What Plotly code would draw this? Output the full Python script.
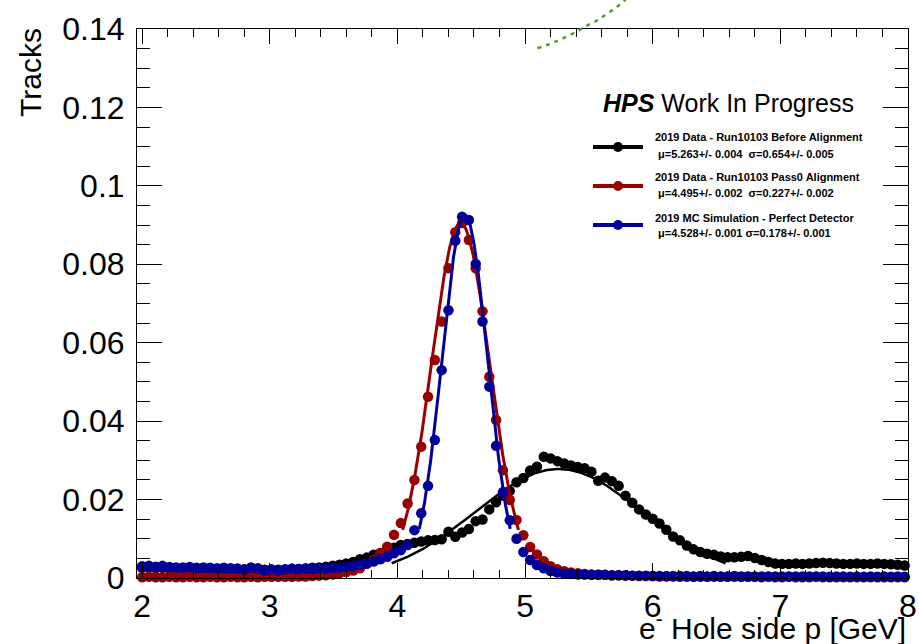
import numpy as np
import plotly.graph_objects as go

# ---------------- data ----------------
# histogram binning: 150 bins over [0, 8] GeV, bins 37..149 visible
n_bins_total = 150
hist_max = 8.0
first_visible_bin = 37
bin_width = hist_max / n_bins_total
bin_centers = [round((k + 0.5) * bin_width, 4) for k in range(first_visible_bin, n_bins_total)]

before_alignment = [
    0.0026, 0.0027, 0.0025, 0.0026, 0.0024, 0.0025, 0.0024, 0.0025, 0.0024, 0.0023,
    0.0024, 0.0023, 0.0024, 0.0022, 0.0023, 0.0022, 0.0021, 0.0022, 0.0021, 0.0020,
    0.0021, 0.0021, 0.0022, 0.0023, 0.0024, 0.0026, 0.0027, 0.0029, 0.0031, 0.0034,
    0.0037, 0.0041, 0.0048, 0.0052, 0.0059, 0.0064, 0.0070, 0.0077, 0.0084, 0.0087,
    0.0090, 0.0093, 0.0096, 0.0097, 0.0099, 0.0118, 0.0105, 0.0116, 0.0125, 0.0145,
    0.0149, 0.0175, 0.0193, 0.0210, 0.0222, 0.0244, 0.0255, 0.0274, 0.0284, 0.0309,
    0.0305, 0.0298, 0.0292, 0.0287, 0.0283, 0.0280, 0.0271, 0.0248, 0.0256, 0.0247,
    0.0235, 0.0210, 0.0192, 0.0175, 0.0162, 0.0151, 0.0139, 0.0123, 0.0106, 0.0096,
    0.0083, 0.0073, 0.0066, 0.0062, 0.0059, 0.0055, 0.0053, 0.0053, 0.0054, 0.0056,
    0.0051, 0.0046, 0.0041, 0.0037, 0.0036, 0.0036, 0.0037, 0.0036, 0.0037, 0.0038,
    0.0039, 0.0038, 0.0037, 0.0036, 0.0036, 0.0037, 0.0036, 0.0036, 0.0037, 0.0036,
    0.0035, 0.0034, 0.0032,
]

pass0_alignment = [
    0.0002, 0.0003, 0.0002, 0.0002, 0.0003, 0.0002, 0.0002, 0.0003, 0.0002, 0.0002,
    0.0003, 0.0002, 0.0002, 0.0003, 0.0002, 0.0002, 0.0003, 0.0002, 0.0003, 0.0003,
    0.0003, 0.0003, 0.0003, 0.0004, 0.0004, 0.0005, 0.0006, 0.0007, 0.0009, 0.0012,
    0.0015, 0.0019, 0.0025, 0.0036, 0.0046, 0.0063, 0.0080, 0.0110, 0.0140, 0.0190,
    0.0250, 0.0335, 0.0462, 0.0556, 0.0654, 0.0790, 0.0882, 0.0905, 0.0862, 0.0790,
    0.0680, 0.0513, 0.0403, 0.0275, 0.0199, 0.0148, 0.0109, 0.0079, 0.0060, 0.0043,
    0.0030, 0.0022, 0.0017, 0.0014, 0.0012, 0.0010, 0.0009, 0.0008, 0.0008, 0.0007,
    0.0007, 0.0006, 0.0006, 0.0005, 0.0005, 0.0005, 0.0004, 0.0004, 0.0004, 0.0003,
    0.0003, 0.0003, 0.0003, 0.0003, 0.0003, 0.0003, 0.0003, 0.0003, 0.0003, 0.0003,
    0.0003, 0.0002, 0.0003, 0.0002, 0.0002, 0.0003, 0.0002, 0.0002, 0.0002, 0.0003,
    0.0002, 0.0002, 0.0002, 0.0002, 0.0002, 0.0002, 0.0002, 0.0002, 0.0002, 0.0002,
    0.0002, 0.0002, 0.0002,
]

mc_perfect = [
    0.0030, 0.0031, 0.0029, 0.0031, 0.0028, 0.0027, 0.0027, 0.0028, 0.0026, 0.0027,
    0.0026, 0.0025, 0.0026, 0.0025, 0.0024, 0.0021, 0.0027, 0.0025, 0.0019, 0.0022,
    0.0019, 0.0022, 0.0024, 0.0023, 0.0024, 0.0023, 0.0025, 0.0024, 0.0026, 0.0026,
    0.0029, 0.0031, 0.0033, 0.0037, 0.0042, 0.0048, 0.0054, 0.0063, 0.0071, 0.0084,
    0.0122, 0.0165, 0.0235, 0.0352, 0.0530, 0.0683, 0.0860, 0.0921, 0.0913, 0.0801,
    0.0654, 0.0488, 0.0337, 0.0219, 0.0147, 0.0100, 0.0066, 0.0046, 0.0033, 0.0025,
    0.0018, 0.0014, 0.0011, 0.0010, 0.0009, 0.0009, 0.0008, 0.0008, 0.0008, 0.0007,
    0.0007, 0.0007, 0.0006, 0.0006, 0.0006, 0.0005, 0.0005, 0.0005, 0.0005, 0.0005,
    0.0005, 0.0004, 0.0005, 0.0004, 0.0005, 0.0004, 0.0004, 0.0005, 0.0004, 0.0004,
    0.0004, 0.0004, 0.0004, 0.0004, 0.0004, 0.0004, 0.0004, 0.0004, 0.0004, 0.0004,
    0.0004, 0.0003, 0.0004, 0.0004, 0.0003, 0.0004, 0.0003, 0.0004, 0.0003, 0.0004,
    0.0003, 0.0004, 0.0003,
]

# Gaussian fit parameters (amplitude, mean, sigma), fit range mean +/- 2 sigma
fit_amplitude = [0.0278, 0.0905, 0.0925]
fit_mean = [5.263, 4.495, 4.528]
fit_sigma = [0.654, 0.227, 0.178]

# extra dashed fit curve visible at the top
green_x = [5.096, 5.190, 5.268, 5.347, 5.420, 5.491, 5.566, 5.634, 5.705, 5.770, 5.830]
green_y = [0.1351, 0.1361, 0.1372, 0.1384, 0.1396, 0.1410, 0.1422, 0.1437, 0.1453, 0.1470, 0.1490]

x_ticks = [2, 3, 4, 5, 6, 7, 8]

series_names = [
    "2019 Data - Run10103 Before Alignment",
    "2019 Data - Run10103 Pass0 Alignment",
    "2019 MC Simulation - Perfect Detector",
]
fit_labels = [
    "\u03bc=5.263+/- 0.004  \u03c3=0.654+/- 0.005",
    "\u03bc=4.495+/- 0.002  \u03c3=0.227+/- 0.002",
    "\u03bc=4.528+/- 0.001 \u03c3=0.178+/- 0.001",
]
colors = ["#000000", "#990000", "#000099"]
fit_widths = [2.5, 3, 3]

# ---------------- figure ----------------
W, H = 919, 644
L, R, B = 137, 908, 578   # plot frame pixel edges
T = 29

def px(xp):
    return (xp - L) / (R - L)

def py(yp):
    return (B - yp) / B

fig = go.Figure()
series = [before_alignment, pass0_alignment, mc_perfect]
for i in range(3):
    fig.add_trace(go.Scatter(
        x=bin_centers, y=series[i], mode="markers",
        marker=dict(color=colors[i], size=10.5, line=dict(width=0)),
        cliponaxis=False, name=series_names[i], xaxis="x", yaxis="y"))
    xf = np.linspace(fit_mean[i] - 2 * fit_sigma[i], fit_mean[i] + 2 * fit_sigma[i], 300)
    yf = fit_amplitude[i] * np.exp(-0.5 * ((xf - fit_mean[i]) / fit_sigma[i]) ** 2)
    fig.add_trace(go.Scatter(
        x=xf, y=yf, mode="lines", line=dict(color=colors[i], width=fit_widths[i]),
        xaxis="x", yaxis="y", hoverinfo="skip"))

fig.add_trace(go.Scatter(
    x=green_x, y=green_y, mode="lines",
    line=dict(color="#5a9e2a", width=2.5, dash="4px,5px", shape="spline"),
    xaxis="x2", yaxis="y2"))

axis_common = dict(
    showline=True, linecolor="black", linewidth=1, mirror="allticks",
    ticks="inside", tickcolor="black", tickwidth=1,
    showgrid=False, zeroline=False, automargin=False,
    tickfont=dict(size=32, family="Liberation Sans, Arial, sans-serif", color="black"),
)

fig.update_layout(
    width=W, height=H,
    margin=dict(l=L, r=W - R, t=0, b=H - B, pad=0, autoexpand=False),
    paper_bgcolor="white", plot_bgcolor="rgba(0,0,0,0)",
    showlegend=False,
    font=dict(family="Liberation Sans, Arial, sans-serif", color="black"),
    xaxis=dict(range=[1.96, 8.0], domain=[0, 1], anchor="y",
               tickmode="array", tickvals=x_ticks, ticklen=15,
               ticklabelstandoff=0,
               minor=dict(ticks="inside", ticklen=8, dtick=0.2, tick0=2,
                          tickcolor="black", tickwidth=1, showgrid=False),
               **axis_common),
    yaxis=dict(range=[0, 0.14], domain=[0, (B - T) / B], anchor="x",
               tickmode="linear", tick0=0, dtick=0.02, ticklen=25,
               ticklabelstandoff=5,
               minor=dict(ticks="inside", ticklen=13, dtick=0.005, tick0=0,
                          tickcolor="black", tickwidth=1, showgrid=False),
               **axis_common),
    xaxis2=dict(range=[1.96, 8.0], domain=[0, 1], anchor="y2", visible=False),
    yaxis2=dict(range=[0, B / ((B - T) / 0.14)], domain=[0, 1], anchor="x2", visible=False),
)

annotations = []
shapes = []
# axis titles
annotations.append(dict(text="Tracks", x=px(30), y=py(73), xref="paper", yref="paper",
                        textangle=-90, xanchor="center", yanchor="middle", showarrow=False,
                        font=dict(size=30)))
annotations.append(dict(text="e<sup>-</sup> Hole side p [GeV]", x=px(908), y=py(626),
                        xref="paper", yref="paper", xanchor="right", yanchor="middle",
                        showarrow=False, font=dict(size=30)))
# header
annotations.append(dict(text="<b><i>HPS</i></b> Work In Progress", x=px(728), y=py(103),
                        xref="paper", yref="paper", xanchor="center", yanchor="middle",
                        showarrow=False, font=dict(size=25)))
legend_y = [147, 186, 225]
line1_y = [137, 177, 218]
line2_y = [154, 193, 233]
for i in range(3):
    shapes.append(dict(type="line", xref="paper", yref="paper",
                       x0=px(593), x1=px(643), y0=py(legend_y[i]), y1=py(legend_y[i]),
                       line=dict(color=colors[i], width=4)))
    shapes.append(dict(type="circle", xref="paper", yref="paper",
                       x0=px(613), x1=px(623), y0=py(legend_y[i] - 5), y1=py(legend_y[i] + 5),
                       fillcolor=colors[i], line=dict(width=0)))
    annotations.append(dict(text="<b>" + series_names[i] + "</b>", x=px(653), y=py(line1_y[i]),
                            xref="paper", yref="paper", xanchor="left", yanchor="middle",
                            showarrow=False, font=dict(size=11)))
    annotations.append(dict(text="<b>" + fit_labels[i] + "</b>", x=px(656), y=py(line2_y[i]),
                            xref="paper", yref="paper", xanchor="left", yanchor="middle",
                            showarrow=False, font=dict(size=11)))

fig.update_layout(annotations=annotations, shapes=shapes)
fig.write_html("out.html", config={"displayModeBar": False},
               post_script="document.body.style.margin='0';")
